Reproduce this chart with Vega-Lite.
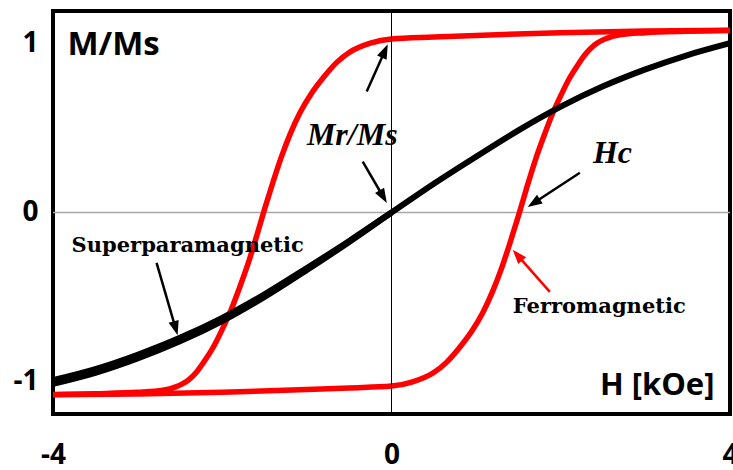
{
  "$schema": "https://vega.github.io/schema/vega-lite/v6.json",
  "width": 677,
  "height": 403,
  "autosize": {"type": "none"},
  "padding": {"left": 53, "top": 11, "right": 3, "bottom": 56},
  "background": "white",
  "config": {
    "view": {"stroke": "black", "strokeWidth": 4},
    "axis": {"grid": false, "domain": false, "ticks": false, "labelFont": "Open Sans", "labelFontWeight": "bold", "labelFontSize": 28, "labelColor": "black", "title": null, "labelOverlap": false, "labelBound": false, "labelFlush": false}
  },
  "datasets": {
    "curves": [
      {"series": "ferroU", "H": 4, "M": 1.077},
      {"series": "ferroU", "H": 3, "M": 1.072},
      {"series": "ferroU", "H": 2, "M": 1.062},
      {"series": "ferroU", "H": 1, "M": 1.046},
      {"series": "ferroU", "H": 0.5, "M": 1.036},
      {"series": "ferroU", "H": 0, "M": 1.025},
      {"series": "ferroU", "H": -0.25, "M": 1.0},
      {"series": "ferroU", "H": -0.5, "M": 0.945},
      {"series": "ferroU", "H": -0.65, "M": 0.885},
      {"series": "ferroU", "H": -0.8, "M": 0.8},
      {"series": "ferroU", "H": -0.95, "M": 0.7},
      {"series": "ferroU", "H": -1.08, "M": 0.59},
      {"series": "ferroU", "H": -1.2, "M": 0.46},
      {"series": "ferroU", "H": -1.3, "M": 0.33},
      {"series": "ferroU", "H": -1.4, "M": 0.18},
      {"series": "ferroU", "H": -1.5, "M": 0.02},
      {"series": "ferroU", "H": -1.6, "M": -0.15},
      {"series": "ferroU", "H": -1.7, "M": -0.31},
      {"series": "ferroU", "H": -1.8, "M": -0.45},
      {"series": "ferroU", "H": -1.9, "M": -0.58},
      {"series": "ferroU", "H": -2.0, "M": -0.69},
      {"series": "ferroU", "H": -2.1, "M": -0.79},
      {"series": "ferroU", "H": -2.2, "M": -0.87},
      {"series": "ferroU", "H": -2.3, "M": -0.94},
      {"series": "ferroU", "H": -2.4, "M": -0.99},
      {"series": "ferroU", "H": -2.55, "M": -1.03},
      {"series": "ferroU", "H": -2.7, "M": -1.05},
      {"series": "ferroU", "H": -3, "M": -1.062},
      {"series": "ferroU", "H": -3.5, "M": -1.07},
      {"series": "ferroU", "H": -4, "M": -1.075},
      {"series": "ferroL", "H": 4, "M": 1.075},
      {"series": "ferroL", "H": 3.5, "M": 1.07},
      {"series": "ferroL", "H": 3, "M": 1.062},
      {"series": "ferroL", "H": 2.7, "M": 1.05},
      {"series": "ferroL", "H": 2.55, "M": 1.03},
      {"series": "ferroL", "H": 2.4, "M": 0.99},
      {"series": "ferroL", "H": 2.3, "M": 0.94},
      {"series": "ferroL", "H": 2.2, "M": 0.87},
      {"series": "ferroL", "H": 2.1, "M": 0.79},
      {"series": "ferroL", "H": 2.0, "M": 0.69},
      {"series": "ferroL", "H": 1.9, "M": 0.58},
      {"series": "ferroL", "H": 1.8, "M": 0.45},
      {"series": "ferroL", "H": 1.7, "M": 0.31},
      {"series": "ferroL", "H": 1.6, "M": 0.15},
      {"series": "ferroL", "H": 1.5, "M": -0.02},
      {"series": "ferroL", "H": 1.4, "M": -0.18},
      {"series": "ferroL", "H": 1.3, "M": -0.33},
      {"series": "ferroL", "H": 1.2, "M": -0.46},
      {"series": "ferroL", "H": 1.08, "M": -0.59},
      {"series": "ferroL", "H": 0.95, "M": -0.7},
      {"series": "ferroL", "H": 0.8, "M": -0.8},
      {"series": "ferroL", "H": 0.65, "M": -0.885},
      {"series": "ferroL", "H": 0.5, "M": -0.945},
      {"series": "ferroL", "H": 0.25, "M": -1.0},
      {"series": "ferroL", "H": 0, "M": -1.025},
      {"series": "ferroL", "H": -0.5, "M": -1.036},
      {"series": "ferroL", "H": -1, "M": -1.046},
      {"series": "ferroL", "H": -2, "M": -1.062},
      {"series": "ferroL", "H": -3, "M": -1.072},
      {"series": "ferroL", "H": -4, "M": -1.077},
      {"series": "sp", "H": -4, "M": -0.99},
      {"series": "sp", "H": -3.5, "M": -0.925},
      {"series": "sp", "H": -3, "M": -0.84},
      {"series": "sp", "H": -2.5, "M": -0.74},
      {"series": "sp", "H": -2, "M": -0.622},
      {"series": "sp", "H": -1.5, "M": -0.483},
      {"series": "sp", "H": -1, "M": -0.328},
      {"series": "sp", "H": -0.5, "M": -0.168},
      {"series": "sp", "H": 0, "M": 0},
      {"series": "sp", "H": 0.5, "M": 0.17},
      {"series": "sp", "H": 1, "M": 0.33},
      {"series": "sp", "H": 1.5, "M": 0.485},
      {"series": "sp", "H": 2, "M": 0.625},
      {"series": "sp", "H": 2.5, "M": 0.745},
      {"series": "sp", "H": 3, "M": 0.845},
      {"series": "sp", "H": 3.5, "M": 0.93},
      {"series": "sp", "H": 4, "M": 1.0},
      {"series": "sp2", "H": -4, "M": -1.012},
      {"series": "sp2", "H": -3.5, "M": -0.947},
      {"series": "sp2", "H": -3, "M": -0.862},
      {"series": "sp2", "H": -2.5, "M": -0.761},
      {"series": "sp2", "H": -2, "M": -0.641},
      {"series": "sp2", "H": -1.5, "M": -0.499},
      {"series": "sp2", "H": -1, "M": -0.34},
      {"series": "sp2", "H": -0.5, "M": -0.174},
      {"series": "sp2", "H": 0, "M": 0}
    ],
    "zerolines": [
      {"name": "h", "H": -4, "M": 0, "H2": 4, "M2": 0},
      {"name": "v", "H": 0, "M": -1.19, "H2": 0, "M2": 1.19}
    ],
    "arrows": [
      {"name": "mr_up", "H": -0.293, "M": 0.714, "H2": -0.079, "M2": 0.954, "angle": 24},
      {"name": "mr_down", "H": -0.34, "M": 0.3, "H2": -0.098, "M2": 0.093, "angle": 150},
      {"name": "hc", "H": 2.226, "M": 0.235, "H2": 1.681, "M2": 0.056, "angle": 237},
      {"name": "ferro", "H": 1.871, "M": -0.469, "H2": 1.488, "M2": -0.252, "angle": -41},
      {"name": "super", "H": -2.776, "M": -0.298, "H2": -2.551, "M2": -0.684, "angle": 164}
    ],
    "labels": [
      {"style": "sans", "text": "M/Ms", "H": -3.829, "M": 0.933},
      {"style": "sans2", "text": "H [kOe]", "H": 2.463, "M": -1.079},
      {"style": "italic", "text": "Mr/Ms", "H": -1.0, "M": 0.4},
      {"style": "italic", "text": "Hc", "H": 2.38, "M": 0.294},
      {"style": "serif", "text": "Superparamagnetic", "H": -3.78, "M": -0.233},
      {"style": "serif", "text": "Ferromagnetic", "H": 1.434, "M": -0.593}
    ]
  },
  "encoding": {
    "x": {"field": "H", "type": "quantitative", "scale": {"domain": [-4, 4], "nice": false, "zero": false}, "axis": {"values": [-4, 0, 4], "labelPadding": 27, "labelExpr": "datum.value + ''"}},
    "y": {"field": "M", "type": "quantitative", "scale": {"domain": [-1.19, 1.19], "nice": false, "zero": false}, "axis": {"values": [-1, 0, 1], "labelPadding": 15, "labelExpr": "datum.value + ''"}}
  },
  "layer": [
    {
      "data": {"name": "zerolines"},
      "transform": [{"filter": "datum.name == 'h'"}],
      "mark": {"type": "rule", "color": "#a6a6a6", "strokeWidth": 1.5},
      "encoding": {"x2": {"field": "H2"}, "y2": {"field": "M2"}}
    },
    {
      "data": {"name": "curves"},
      "transform": [{"filter": "datum.series == 'ferroU' || datum.series == 'ferroL'"}],
      "mark": {"type": "line", "color": "#ff0000", "strokeWidth": 5.5, "interpolate": "monotone", "clip": true},
      "encoding": {"detail": {"field": "series"}}
    },
    {
      "data": {"name": "curves"},
      "transform": [{"filter": "datum.series == 'sp' || datum.series == 'sp2'"}],
      "mark": {"type": "line", "color": "black", "strokeWidth": 6, "interpolate": "monotone", "clip": true},
      "encoding": {"detail": {"field": "series"}}
    },
    {
      "data": {"name": "zerolines"},
      "transform": [{"filter": "datum.name == 'v'"}],
      "mark": {"type": "rule", "color": "black", "strokeWidth": 1},
      "encoding": {"x2": {"field": "H2"}, "y2": {"field": "M2"}}
    },
    {
      "data": {"name": "arrows"},
      "mark": {"type": "rule", "strokeWidth": 2.5},
      "encoding": {
        "x2": {"field": "H2"},
        "y2": {"field": "M2"},
        "color": {"field": "name", "type": "nominal", "scale": {"domain": ["mr_up", "mr_down", "hc", "ferro", "super"], "range": ["black", "black", "black", "#ff0000", "black"]}, "legend": null}
      }
    },
    {
      "data": {"name": "arrows"},
      "mark": {"type": "point", "filled": true, "opacity": 1, "shape": "M0,-1L0.72,1L-0.72,1Z", "size": 210, "strokeWidth": 0},
      "encoding": {
        "x": {"field": "H2", "type": "quantitative"},
        "y": {"field": "M2", "type": "quantitative"},
        "angle": {"field": "angle", "type": "quantitative", "scale": null},
        "color": {"field": "name", "type": "nominal", "scale": {"domain": ["mr_up", "mr_down", "hc", "ferro", "super"], "range": ["black", "black", "black", "#ff0000", "black"]}, "legend": null}
      }
    },
    {
      "data": {"name": "labels"},
      "transform": [{"filter": "datum.style == 'sans'"}],
      "mark": {"type": "text", "font": "Open Sans", "fontWeight": "bold", "fontSize": 33, "align": "left", "baseline": "alphabetic", "color": "black"},
      "encoding": {"text": {"field": "text"}}
    },
    {
      "data": {"name": "labels"},
      "transform": [{"filter": "datum.style == 'sans2'"}],
      "mark": {"type": "text", "font": "Open Sans", "fontWeight": "bold", "fontSize": 31, "align": "left", "baseline": "alphabetic", "color": "black"},
      "encoding": {"text": {"field": "text"}}
    },
    {
      "data": {"name": "labels"},
      "transform": [{"filter": "datum.style == 'italic'"}],
      "mark": {"type": "text", "font": "Liberation Serif", "fontWeight": "bold", "fontStyle": "italic", "fontSize": 32, "align": "left", "baseline": "alphabetic", "color": "black"},
      "encoding": {"text": {"field": "text"}}
    },
    {
      "data": {"name": "labels"},
      "transform": [{"filter": "datum.style == 'serif'"}],
      "mark": {"type": "text", "font": "DejaVu Serif", "fontWeight": "bold", "fontSize": 21, "align": "left", "baseline": "alphabetic", "color": "black"},
      "encoding": {"text": {"field": "text"}}
    }
  ]
}
